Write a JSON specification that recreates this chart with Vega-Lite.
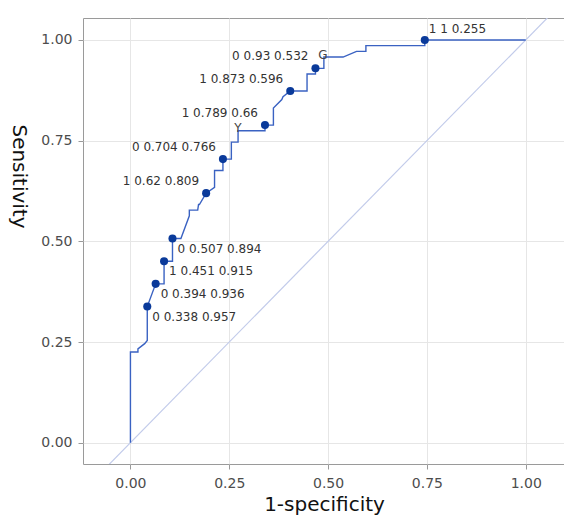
{
  "$schema": "https://vega.github.io/schema/vega-lite/v6.json",
  "width": 482,
  "height": 446,
  "autosize": {"type": "none"},
  "padding": {"left": 83, "top": 18, "right": 0, "bottom": 54},
  "background": "white",
  "config": {
    "view": {"stroke": "#9a9a9a", "strokeWidth": 1},
    "font": "DejaVu Sans",
    "axis": {
      "grid": true,
      "gridColor": "#e6e6e6",
      "gridWidth": 1,
      "domain": false,
      "tickColor": "#9a9a9a",
      "tickSize": 5,
      "labelColor": "#4d4d4d",
      "labelFont": "DejaVu Sans",
      "labelFontSize": 14,
      "titleFont": "DejaVu Sans",
      "titleFontSize": 20,
      "titleFontWeight": "normal",
      "titleColor": "#111111"
    }
  },
  "datasets": {
    "curve": [
      {"i": 0, "x": 0, "y": 0},
      {"i": 1, "x": 0, "y": 0.2254},
      {"i": 2, "x": 0.019, "y": 0.2254},
      {"i": 3, "x": 0.019, "y": 0.233},
      {"i": 4, "x": 0.036, "y": 0.246},
      {"i": 5, "x": 0.0426, "y": 0.254},
      {"i": 6, "x": 0.0426, "y": 0.338},
      {"i": 7, "x": 0.0638, "y": 0.3944},
      {"i": 8, "x": 0.0851, "y": 0.3944},
      {"i": 9, "x": 0.0851, "y": 0.4507},
      {"i": 10, "x": 0.1064, "y": 0.4507},
      {"i": 11, "x": 0.1064, "y": 0.507},
      {"i": 12, "x": 0.1277, "y": 0.507},
      {"i": 13, "x": 0.149, "y": 0.5634},
      {"i": 14, "x": 0.149, "y": 0.5775},
      {"i": 15, "x": 0.1702, "y": 0.5775},
      {"i": 16, "x": 0.1723, "y": 0.5915},
      {"i": 17, "x": 0.1745, "y": 0.5915},
      {"i": 18, "x": 0.1915, "y": 0.6197},
      {"i": 19, "x": 0.2128, "y": 0.634},
      {"i": 20, "x": 0.2128, "y": 0.676},
      {"i": 21, "x": 0.234, "y": 0.676},
      {"i": 22, "x": 0.234, "y": 0.7042},
      {"i": 23, "x": 0.2553, "y": 0.7042},
      {"i": 24, "x": 0.2553, "y": 0.7465},
      {"i": 25, "x": 0.2723, "y": 0.7465},
      {"i": 26, "x": 0.2723, "y": 0.7746},
      {"i": 27, "x": 0.3404, "y": 0.7746},
      {"i": 28, "x": 0.3404, "y": 0.7887},
      {"i": 29, "x": 0.3617, "y": 0.7887},
      {"i": 30, "x": 0.3617, "y": 0.831},
      {"i": 31, "x": 0.383, "y": 0.852},
      {"i": 32, "x": 0.386, "y": 0.859},
      {"i": 33, "x": 0.4043, "y": 0.8732},
      {"i": 34, "x": 0.4468, "y": 0.8732},
      {"i": 35, "x": 0.4468, "y": 0.9155},
      {"i": 36, "x": 0.4681, "y": 0.9155},
      {"i": 37, "x": 0.4681, "y": 0.9296},
      {"i": 38, "x": 0.4894, "y": 0.9296},
      {"i": 39, "x": 0.4894, "y": 0.9577},
      {"i": 40, "x": 0.538, "y": 0.9577},
      {"i": 41, "x": 0.572, "y": 0.9718},
      {"i": 42, "x": 0.5957, "y": 0.9718},
      {"i": 43, "x": 0.5957, "y": 0.9859},
      {"i": 44, "x": 0.7447, "y": 0.9859},
      {"i": 45, "x": 0.7447, "y": 1},
      {"i": 46, "x": 1, "y": 1}
    ],
    "points": [
      {"x": 0.0426, "y": 0.338, "label": "0 0.338 0.957"},
      {"x": 0.0638, "y": 0.3944, "label": "0 0.394 0.936"},
      {"x": 0.0851, "y": 0.4507, "label": "1 0.451 0.915"},
      {"x": 0.1064, "y": 0.507, "label": "0 0.507 0.894"},
      {"x": 0.1915, "y": 0.6197, "label": "1 0.62 0.809"},
      {"x": 0.234, "y": 0.7042, "label": "0 0.704 0.766"},
      {"x": 0.3404, "y": 0.7887, "label": "1 0.789 0.66"},
      {"x": 0.4043, "y": 0.8732, "label": "1 0.873 0.596"},
      {"x": 0.4681, "y": 0.9296, "label": "0 0.93 0.532"},
      {"x": 0.7447, "y": 1, "label": "1 1 0.255"}
    ],
    "glyphs": [
      {"x": 0.272, "y": 0.781, "label": "Y"},
      {"x": 0.487, "y": 0.963, "label": "G"}
    ],
    "diag": [
      {"x": -0.3, "y": -0.3},
      {"x": 1.3, "y": 1.3}
    ]
  },
  "encoding": {
    "x": {
      "field": "x", "type": "quantitative",
      "scale": {"domain": [-0.12, 1.0994], "nice": false, "zero": false},
      "axis": {"values": [0, 0.25, 0.5, 0.75, 1], "format": ".2f", "title": "1-specificity", "labelPadding": 7, "titlePadding": 4}
    },
    "y": {
      "field": "y", "type": "quantitative",
      "scale": {"domain": [-0.0529, 1.0546], "nice": false, "zero": false},
      "axis": {"values": [0, 0.25, 0.5, 0.75, 1], "format": ".2f", "title": "Sensitivity", "labelPadding": 6,
        "titleAngle": 90, "titleX": -65, "titleY": 158, "titleAlign": "center", "titleBaseline": "middle"}
    }
  },
  "layer": [
    {
      "data": {"name": "diag"},
      "mark": {"type": "line", "color": "#c2cbea", "strokeWidth": 1.2, "clip": true},
      "encoding": {}
    },
    {
      "data": {"name": "curve"},
      "mark": {"type": "line", "color": "#3a62c2", "strokeWidth": 1.4},
      "encoding": {"order": {"field": "i", "type": "quantitative"}}
    },
    {
      "data": {"name": "points"},
      "mark": {"type": "circle", "color": "#0a3a9a", "opacity": 1, "size": 65},
      "encoding": {}
    },
    {
      "data": {"name": "points"},
      "transform": [{"filter": "datum.y < 0.55"}],
      "mark": {"type": "text", "align": "left", "baseline": "middle", "dx": 5, "dy": 10, "fontSize": 12, "color": "#333333"},
      "encoding": {"text": {"field": "label"}}
    },
    {
      "data": {"name": "points"},
      "transform": [{"filter": "datum.y >= 0.55 && datum.y < 0.999"}],
      "mark": {"type": "text", "align": "right", "baseline": "middle", "dx": -7, "dy": -12, "fontSize": 12, "color": "#333333"},
      "encoding": {"text": {"field": "label"}}
    },
    {
      "data": {"name": "points"},
      "transform": [{"filter": "datum.y >= 0.999"}],
      "mark": {"type": "text", "align": "left", "baseline": "middle", "dx": 4, "dy": -11, "fontSize": 12, "color": "#333333"},
      "encoding": {"text": {"field": "label"}}
    },
    {
      "data": {"name": "glyphs"},
      "mark": {"type": "text", "align": "center", "baseline": "middle", "fontSize": 12, "color": "#444444"},
      "encoding": {"text": {"field": "label"}}
    }
  ]
}
